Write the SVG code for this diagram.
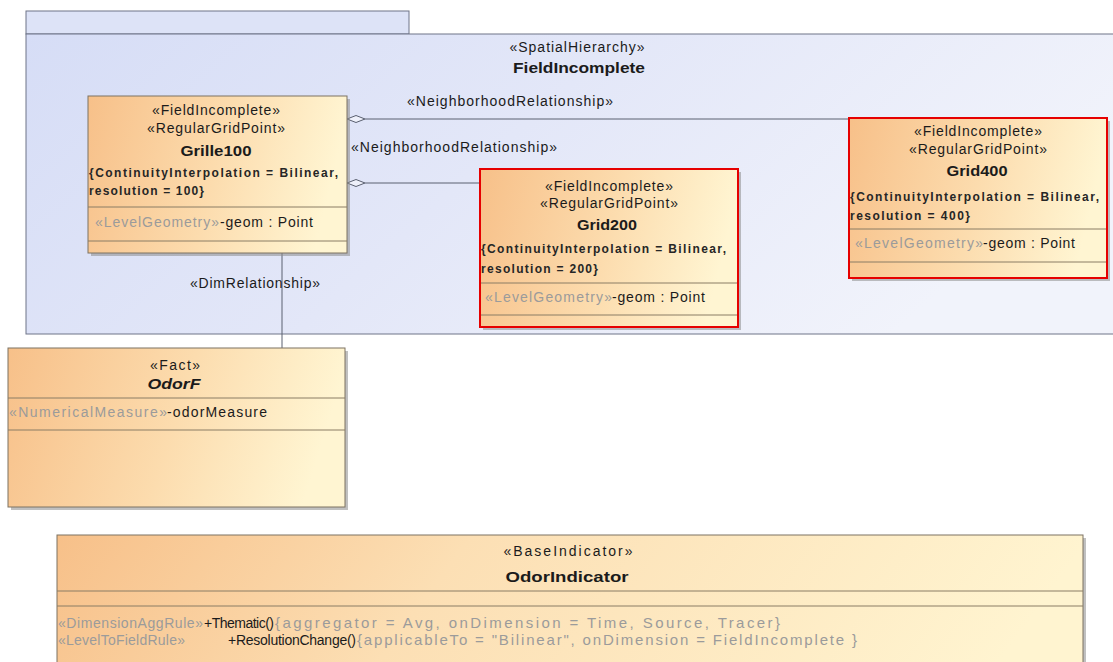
<svg xmlns="http://www.w3.org/2000/svg" width="1113" height="662" viewBox="0 0 1113 662">
<defs>
<linearGradient id="pkg" x1="0" y1="0" x2="1" y2="0.3">
<stop offset="0" stop-color="#d6ddf6"/>
<stop offset="0.5" stop-color="#e3e7f8"/>
<stop offset="1" stop-color="#f1f3fb"/>
</linearGradient>
<linearGradient id="nd" x1="0" y1="0" x2="1" y2="0.15">
<stop offset="0" stop-color="#f7c089"/>
<stop offset="0.55" stop-color="#fcdcae"/>
<stop offset="1" stop-color="#fff5d2"/>
</linearGradient>
<linearGradient id="ndw" x1="0" y1="0" x2="1" y2="0.1">
<stop offset="0" stop-color="#f7c089"/>
<stop offset="0.4" stop-color="#fcdfb4"/>
<stop offset="1" stop-color="#fff4d0"/>
</linearGradient>
</defs>
<style>
.t{font-family:"Liberation Sans",Arial,sans-serif;font-size:14px;fill:#1b1b1b}
.m{text-anchor:middle}
.b{font-weight:bold;font-size:15px}
.bi{font-weight:bold;font-style:italic;font-size:15px}
.g{fill:#9b9b9b}
.big{font-size:15px}
.c{font-family:"Liberation Sans",Arial,sans-serif;font-size:12px;font-weight:bold;fill:#262626}
.box{fill:url(#nd);stroke:#7d7262;stroke-width:1}
.boxw{fill:url(#ndw);stroke:#7d7262;stroke-width:1}
.red{fill:none;stroke:#e60000;stroke-width:2}
.sh{fill:#8c8c8c;opacity:0.55}
.sep{stroke:#8a7c64;stroke-width:1}
.ln{stroke:#5a6070;stroke-width:1;fill:none}
.dia{fill:#eef0fa;stroke:#5a6070;stroke-width:1}
</style>
<rect width="1113" height="662" fill="#ffffff"/>

<g id="FieldIncomplete">
<rect x="26" y="11" width="383" height="23" fill="#dde3f7" stroke="#6f7588" stroke-width="1"/>
<rect x="26" y="34" width="1100" height="300" fill="url(#pkg)" stroke="#6f7588" stroke-width="1"/>
<text class="t m" x="577" y="52" textLength="135" lengthAdjust="spacing">«SpatialHierarchy»</text>
<text class="t m b" x="579" y="73" textLength="132" lengthAdjust="spacingAndGlyphs">FieldIncomplete</text>
</g>

<g id="connectors">
<line class="ln" x1="365" y1="119" x2="849" y2="119"/>
<polygon class="dia" points="347,119 356,115.5 365,119 356,122.5"/>
<text class="t" x="407" y="106" textLength="206" lengthAdjust="spacing">«NeighborhoodRelationship»</text>
<line class="ln" x1="365" y1="183" x2="480" y2="183"/>
<polygon class="dia" points="347,183 356,179.5 365,183 356,186.5"/>
<text class="t" x="351" y="152" textLength="206" lengthAdjust="spacing">«NeighborhoodRelationship»</text>
<line class="ln" x1="282" y1="253" x2="282" y2="348"/>
<text class="t" x="190" y="288" textLength="130" lengthAdjust="spacing">«DimRelationship»</text>
</g>

<g id="Grille100">
<rect class="sh" x="91" y="99" width="259" height="157"/>
<rect class="box" x="88" y="96" width="259" height="157"/>
<line class="sep" x1="88" y1="207" x2="347" y2="207"/>
<line class="sep" x1="88" y1="241" x2="347" y2="241"/>
<text class="t m" x="216" y="115" textLength="128" lengthAdjust="spacing">«FieldIncomplete»</text>
<text class="t m" x="216" y="133" textLength="138" lengthAdjust="spacing">«RegularGridPoint»</text>
<text class="t m b" x="216" y="156" textLength="71" lengthAdjust="spacingAndGlyphs">Grille100</text>
<text class="c" x="89" y="177" textLength="249" lengthAdjust="spacing">{ContinuityInterpolation = Bilinear,</text>
<text class="c" x="89" y="195" textLength="115" lengthAdjust="spacing">resolution = 100}</text>
<text class="t g" x="95" y="227" textLength="124" lengthAdjust="spacing">«LevelGeometry»</text>
<text class="t" x="220" y="227" textLength="93" lengthAdjust="spacing">-geom : Point</text>
</g>

<g id="Grid200">
<rect class="sh" x="483" y="172" width="258" height="158"/>
<rect class="box" x="480" y="169" width="258" height="158"/>
<line class="sep" x1="480" y1="283" x2="738" y2="283"/>
<line class="sep" x1="480" y1="315" x2="738" y2="315"/>
<rect class="red" x="480" y="169" width="258" height="158"/>
<text class="t m" x="609" y="191" textLength="128" lengthAdjust="spacing">«FieldIncomplete»</text>
<text class="t m" x="609" y="208" textLength="138" lengthAdjust="spacing">«RegularGridPoint»</text>
<text class="t m b" x="607" y="230" textLength="60" lengthAdjust="spacingAndGlyphs">Grid200</text>
<text class="c" x="481" y="253" textLength="245" lengthAdjust="spacing">{ContinuityInterpolation = Bilinear,</text>
<text class="c" x="481" y="273" textLength="117" lengthAdjust="spacing">resolution = 200}</text>
<text class="t g" x="485" y="302" textLength="127" lengthAdjust="spacing">«LevelGeometry»</text>
<text class="t" x="612" y="302" textLength="93" lengthAdjust="spacing">-geom : Point</text>
</g>

<g id="Grid400">
<rect class="sh" x="852" y="121" width="258" height="160"/>
<rect class="box" x="849" y="118" width="258" height="160"/>
<line class="sep" x1="849" y1="229" x2="1107" y2="229"/>
<line class="sep" x1="849" y1="262" x2="1107" y2="262"/>
<rect class="red" x="849" y="118" width="258" height="160"/>
<text class="t m" x="978" y="136" textLength="128" lengthAdjust="spacing">«FieldIncomplete»</text>
<text class="t m" x="978" y="154" textLength="138" lengthAdjust="spacing">«RegularGridPoint»</text>
<text class="t m b" x="977" y="176" textLength="61" lengthAdjust="spacingAndGlyphs">Grid400</text>
<text class="c" x="850" y="201" textLength="249" lengthAdjust="spacing">{ContinuityInterpolation = Bilinear,</text>
<text class="c" x="850" y="220" textLength="120" lengthAdjust="spacing">resolution = 400}</text>
<text class="t g" x="855" y="248" textLength="128" lengthAdjust="spacing">«LevelGeometry»</text>
<text class="t" x="983" y="248" textLength="92" lengthAdjust="spacing">-geom : Point</text>
</g>

<g id="OdorF">
<rect class="sh" x="11" y="351" width="337" height="159"/>
<rect class="box" x="8" y="348" width="337" height="159"/>
<line class="sep" x1="8" y1="398" x2="345" y2="398"/>
<line class="sep" x1="8" y1="430" x2="345" y2="430"/>
<text class="t m" x="175" y="370" textLength="50" lengthAdjust="spacing">«Fact»</text>
<text class="t m bi" x="174" y="389" textLength="53" lengthAdjust="spacingAndGlyphs">OdorF</text>
<text class="t g" x="9" y="417" textLength="158" lengthAdjust="spacing">«NumericalMeasure»</text>
<text class="t" x="167" y="417" textLength="100" lengthAdjust="spacing">-odorMeasure</text>
</g>

<g id="OdorIndicator">
<rect class="sh" x="60" y="538" width="1026" height="140"/>
<rect class="boxw" x="57" y="535" width="1026" height="140"/>
<line class="sep" x1="57" y1="591" x2="1083" y2="591"/>
<line class="sep" x1="57" y1="606" x2="1083" y2="606"/>
<text class="t m" x="568" y="556" textLength="129" lengthAdjust="spacing">«BaseIndicator»</text>
<text class="t m b" x="567" y="582" textLength="123" lengthAdjust="spacingAndGlyphs">OdorIndicator</text>
<text class="t g" x="58" y="628" textLength="145" lengthAdjust="spacing">«DimensionAggRule»</text>
<text class="t" x="204" y="628" textLength="70" lengthAdjust="spacing">+Thematic()</text>
<text class="t g big" x="275" y="628" textLength="505" lengthAdjust="spacing">{aggregator = Avg, onDimension = Time, Source, Tracer}</text>
<text class="t g" x="58" y="645" textLength="127" lengthAdjust="spacing">«LevelToFieldRule»</text>
<text class="t" x="228" y="645" textLength="128" lengthAdjust="spacing">+ResolutionChange()</text>
<text class="t g big" x="357" y="645" textLength="500" lengthAdjust="spacing">{applicableTo = "Bilinear", onDimension = FieldIncomplete }</text>
</g>
</svg>
